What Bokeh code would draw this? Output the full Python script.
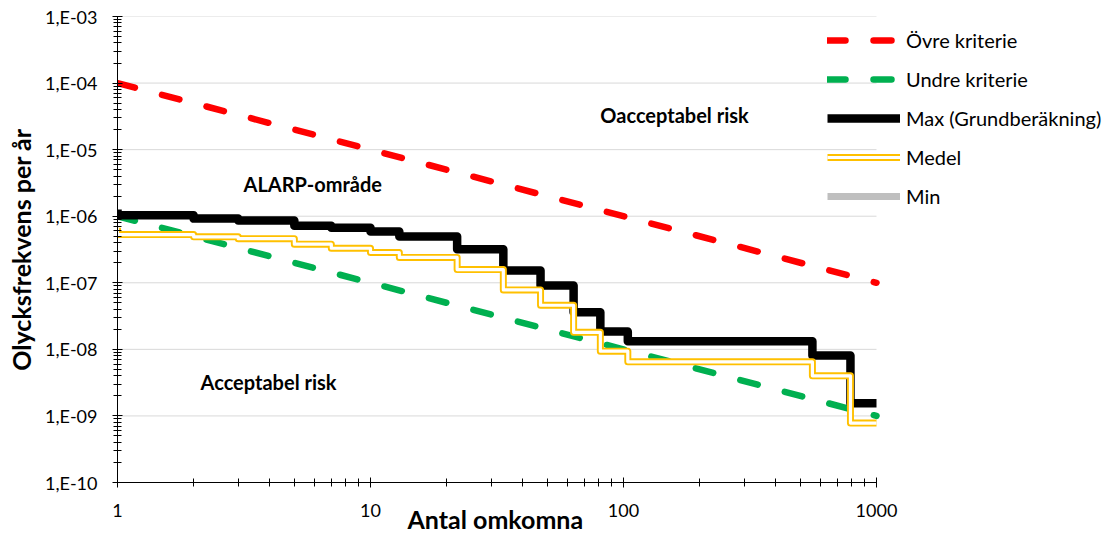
import math
from bokeh.plotting import figure
from bokeh.models import (FixedTicker, CustomJSTickFormatter, Legend, LegendItem,
                          Label, ColumnDataSource, Title)
from bokeh.embed import file_html
from bokeh.resources import INLINE

# ---------------- data ----------------
crit_n = [1, 1000]
ovre_f = [1e-4, 1e-7]
undre_f = [1e-6, 1e-9]

step_n = [1, 1, 2, 3, 5, 7, 10, 13, 22, 33.5, 47, 63.5, 81, 104, 558, 789, 1000]
max_f = [1.26e-6, 1.03e-6, 9.2e-7, 8.6e-7, 7.2e-7, 6.7e-7, 5.9e-7, 4.95e-7, 3.2e-7,
         1.53e-7, 9.1e-8, 3.6e-8, 1.86e-8, 1.32e-8, 8.1e-9, 1.55e-9, 1.55e-9]
medel_f = [6.7e-7, 5.3e-7, 4.9e-7, 4.6e-7, 3.8e-7, 3.3e-7, 2.85e-7, 2.4e-7, 1.58e-7,
           7.8e-8, 4.6e-8, 1.8e-8, 9.4e-9, 6.5e-9, 4.0e-9, 7.8e-10, 7.8e-10]
# the "Min" series has no visible values in the chart (legend entry only)
min_n = [1]
min_f = [float("nan")]

x_ticks = [1, 10, 100, 1000]
y_ticks = [1e-10, 1e-9, 1e-8, 1e-7, 1e-6, 1e-5, 1e-4, 1e-3]

region_texts = ["Oacceptabel risk", "ALARP-område", "Acceptabel risk"]
region_x = [81, 3.15, 2.13]
region_y = [3.26e-5, 3.0e-6, 3.18e-9]

legend_labels = ["Övre kriterie", "Undre kriterie", "Max (Grundberäkning)", "Medel", "Min"]
x_title = "Antal omkomna"
y_title = "Olycksfrekvens per år"

FONT = "Lato"

# ---------------- layout (pixels) ----------------
FIG_W, FIG_H = 1108, 541
LEFT, TOP, BOTTOM = 117, 16, 59
PX_PER_DECADE = 253.0
frame_w = FIG_W - LEFT
x_lo, x_hi = x_ticks[0], x_ticks[-1]
x_end = x_lo * 10 ** (frame_w / PX_PER_DECADE)   # frame extends right to hold the legend

p = figure(width=FIG_W, height=FIG_H, x_axis_type="log", y_axis_type="log",
           x_range=(x_lo, x_end), y_range=(y_ticks[0], y_ticks[-1]),
           output_backend="svg", toolbar_location=None,
           min_border_left=LEFT, min_border_right=0, min_border_top=TOP,
           min_border_bottom=BOTTOM)
p.outline_line_color = None
p.background_fill_color = "white"
p.border_fill_color = "white"
p.xgrid.visible = False
p.ygrid.visible = False

# horizontal gridlines only across the plotted x-span
p.segment(x0=[x_lo] * len(y_ticks), x1=[x_hi] * len(y_ticks), y0=y_ticks, y1=y_ticks,
          line_color="#d9d9d9", line_width=1, level="underlay")

x_minor = [m * 10 ** k for k in range(0, 3) for m in range(2, 10)]
y_minor = [m * 10.0 ** k for k in range(-10, -3) for m in range(2, 10)]
p.xaxis.ticker = FixedTicker(ticks=x_ticks, minor_ticks=x_minor)
p.yaxis.ticker = FixedTicker(ticks=y_ticks, minor_ticks=y_minor)
p.xaxis.bounds = (x_lo, x_hi)

p.xaxis.formatter = CustomJSTickFormatter(code="return String(Math.round(tick));")
p.yaxis.formatter = CustomJSTickFormatter(code="""
const e = Math.round(Math.log10(tick));
const s = String(Math.abs(e)).padStart(2, '0');
return '1,E' + (e < 0 ? '-' : '+') + s;
""")

for ax in (p.xaxis, p.yaxis):
    ax.axis_line_color = "black"
    ax.major_tick_line_color = "black"
    ax.minor_tick_line_color = "black"
    ax.major_tick_in = 5
    ax.major_tick_out = 5
    ax.minor_tick_in = 4
    ax.minor_tick_out = 4
    ax.major_label_text_font = FONT
    ax.major_label_text_font_size = "18px"
    ax.major_label_text_color = "black"
    ax.axis_label_text_font = FONT
    ax.axis_label_text_font_style = "bold"
    ax.axis_label_text_font_size = "25px"
    ax.axis_label_text_color = "black"

p.yaxis.axis_label = y_title
p.xaxis.major_label_standoff = 16
p.yaxis.major_label_standoff = 15
p.yaxis.axis_label_standoff = 6

p.add_layout(Title(text=x_title, align="left", offset=290, standoff=-32,
                   vertical_align="top",
                   text_font=FONT, text_font_style="bold", text_font_size="25px",
                   text_color="black"), "below")

# ---------------- series ----------------
r_undre = p.line(crit_n, undre_f, line_color="#00b050", line_width=6.5,
                 line_dash="18 28", line_cap="round")
r_ovre = p.line(crit_n, ovre_f, line_color="#ff0000", line_width=6.5,
                line_dash="18 28", line_cap="round")
r_max = p.step(step_n, max_f, mode="after", line_color="black", line_width=8.5,
               line_join="round")
r_medel_o = p.step(step_n, medel_f, mode="after", line_color="#ffc000", line_width=7,
                   line_join="round")
r_medel_i = p.step(step_n, medel_f, mode="after", line_color="white", line_width=3.2,
                   line_join="round")
r_min = p.line(x="x", y="y", source=ColumnDataSource(dict(x=min_n, y=min_f)),
               line_color="#bfbfbf", line_width=7)

for t, x, y in zip(region_texts, region_x, region_y):
    p.add_layout(Label(x=x, y=y, text=t, text_font=FONT, text_font_style="bold",
                       text_font_size="20px", text_baseline="middle", text_color="black"))

legend = Legend(items=[
    LegendItem(label=legend_labels[0], renderers=[r_ovre]),
    LegendItem(label=legend_labels[1], renderers=[r_undre]),
    LegendItem(label=legend_labels[2], renderers=[r_max]),
    LegendItem(label=legend_labels[3], renderers=[r_medel_o, r_medel_i]),
    LegendItem(label=legend_labels[4], renderers=[r_min]),
], location=(710, 274))
legend.glyph_width = 73
legend.glyph_height = 24
legend.label_height = 24
legend.spacing = 15
legend.padding = 0
legend.margin = 0
legend.label_standoff = 6
legend.border_line_color = None
legend.background_fill_alpha = 0
legend.label_text_font = FONT
legend.label_text_font_size = "20px"
legend.label_text_color = "black"
p.add_layout(legend, "center")

open("out.html", "w").write(file_html(p, INLINE))
